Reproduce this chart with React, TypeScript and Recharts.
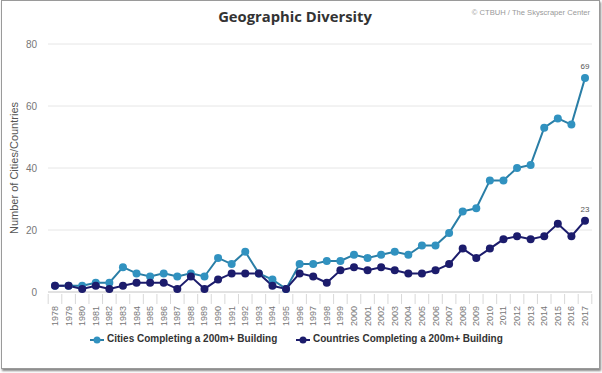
import React from 'react';
import { LineChart, Line, XAxis, YAxis, CartesianGrid, Legend } from 'recharts';

const years = ['1978','1979','1980','1981','1982','1983','1984','1985','1986','1987','1988','1989','1990','1991','1992','1993','1994','1995','1996','1997','1998','1999','2000','2001','2002','2003','2004','2005','2006','2007','2008','2009','2010','2011','2012','2013','2014','2015','2016','2017'];
const cities = [2,2,2,3,3,8,6,5,6,5,6,5,11,9,13,6,4,1,9,9,10,10,12,11,12,13,12,15,15,19,26,27,36,36,40,41,53,56,54,69];
const countries = [2,2,1,2,1,2,3,3,3,1,5,1,4,6,6,6,2,1,6,5,3,7,8,7,8,7,6,6,7,9,14,11,14,17,18,17,18,22,18,23];
const yTicks = [0, 20, 40, 60, 80];
const citiesName = 'Cities Completing a 200m+ Building';
const countriesName = 'Countries Completing a 200m+ Building';

const data = years.map((y, i) => ({ year: y, cities: cities[i], countries: countries[i] }));

const CITY_LINE = '#2a7ea6';
const CITY_DOT = '#3192c0';
const COUNTRY = '#1c1c6c';
const FONT = 'Arial, "Liberation Sans", sans-serif';

const XTick = (props: any) => {
  const { x, y, payload, index } = props;
  const half = 6.8;
  const last = index === years.length - 1;
  return (
    <g transform={`translate(${x},${y})`}>
      <line x1={-half} y1={-6} x2={-half} y2={4} stroke="#d8d8d8" />
      {last && <line x1={half} y1={-6} x2={half} y2={4} stroke="#d8d8d8" />}
      <text x={-6} y={0} dy={3} transform="rotate(-90)" textAnchor="end" fontSize={9} fill="#777" fontFamily={FONT}>
        {payload.value}
      </text>
    </g>
  );
};

const lastLabel = (props: any) => {
  const { x, y, index, value } = props;
  if (index !== years.length - 1) return null;
  return (
    <text x={x} y={y - 9} textAnchor="middle" fontSize={8} fill="#555" fontFamily={FONT}>
      {value}
    </text>
  );
};

const LegendContent = () => (
  <div style={{ position: 'relative', height: 16, fontFamily: FONT, fontSize: 10, fontWeight: 'bold', color: '#333' }}>
    <svg width={14} height={10} style={{ position: 'absolute', left: 90, top: 3 }}>
      <line x1={0} y1={5} x2={14} y2={5} stroke={CITY_LINE} strokeWidth={2} />
      <circle cx={7} cy={5} r={3.5} fill={CITY_DOT} />
    </svg>
    <span style={{ position: 'absolute', left: 107, top: 1, whiteSpace: 'nowrap' }}>{citiesName}</span>
    <svg width={14} height={10} style={{ position: 'absolute', left: 296, top: 3 }}>
      <line x1={0} y1={5} x2={14} y2={5} stroke={COUNTRY} strokeWidth={2} />
      <circle cx={7} cy={5} r={3.5} fill={COUNTRY} />
    </svg>
    <span style={{ position: 'absolute', left: 313, top: 1, whiteSpace: 'nowrap' }}>{countriesName}</span>
  </div>
);

export default function App() {
  return (
    <div style={{ position: 'absolute', left: 0, top: 0, width: 602, height: 373, background: '#fff' }}>
      <div style={{ position: 'absolute', left: 1, top: 0, width: 597, height: 367, border: '1px solid #9a9a9a', boxShadow: '1px 2px 2px #888' }} />
      <div style={{ position: 'absolute', left: 0, top: 6, width: 590, textAlign: 'center', fontFamily: '"Open Sans", sans-serif', fontWeight: 'bold', fontSize: 14.8, color: '#333' }}>
        Geographic Diversity
      </div>
      <div style={{ position: 'absolute', right: 12, top: 8, fontFamily: FONT, fontSize: 7.6, color: '#999' }}>
        © CTBUH / The Skyscraper Center
      </div>
      <div style={{ position: 'absolute', left: 0, top: 0 }}>
        <LineChart width={602} height={373} data={data} margin={{ top: 44, right: 10, left: 0, bottom: 49 }}>
          <CartesianGrid vertical={false} stroke="#e6e6e6" />
          <XAxis
            dataKey="year"
            interval={0}
            height={32}
            padding={{ left: 7, right: 7 }}
            tick={<XTick />}
            tickLine={false}
            axisLine={{ stroke: '#d0d0d0' }}
          />
          <YAxis
            width={48}
            domain={[0, 80]}
            ticks={yTicks}
            axisLine={false}
            tickLine={false}
            tickMargin={5}
            tick={{ fontSize: 10, fill: '#777', fontFamily: FONT }}
            label={{ value: 'Number of Cities/Countries', angle: -90, position: 'center', dx: -10, style: { fontSize: 11, fill: '#555', fontFamily: FONT, textAnchor: 'middle' } }}
          />
          <Legend layout="horizontal" verticalAlign="middle" align="center" wrapperStyle={{ top: 332, left: 0, width: 602 }} content={<LegendContent />} />
          <Line
            type="linear"
            dataKey="cities"
            name={citiesName}
            stroke={CITY_LINE}
            strokeWidth={2}
            dot={{ r: 4, fill: CITY_DOT, stroke: CITY_DOT, strokeWidth: 0 }}
            label={lastLabel}
            isAnimationActive={false}
          />
          <Line
            type="linear"
            dataKey="countries"
            name={countriesName}
            stroke={COUNTRY}
            strokeWidth={2}
            dot={{ r: 4, fill: COUNTRY, stroke: COUNTRY, strokeWidth: 0 }}
            label={lastLabel}
            isAnimationActive={false}
          />
        </LineChart>
      </div>
    </div>
  );
}
